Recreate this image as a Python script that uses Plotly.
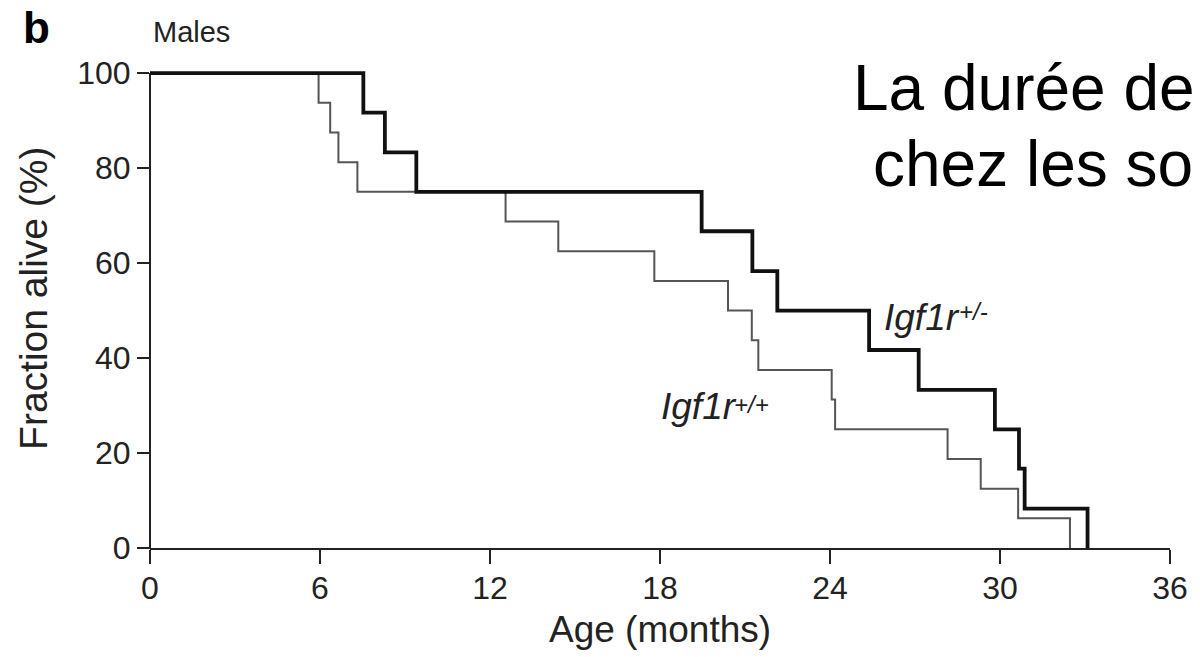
import plotly.graph_objects as go

# Kaplan-Meier style survival data (months, % alive)
het_months = [0, 7.53, 8.29, 9.40, 19.47, 21.26, 22.14, 25.38, 27.13, 29.82, 30.67, 30.87, 33.09]
het_alive = [100, 91.7, 83.3, 75.0, 66.7, 58.3, 50.0, 41.7, 33.3, 25.0, 16.7, 8.3, 0]

wt_months = [0, 5.95, 6.36, 6.65, 7.32, 12.55, 14.41, 17.80, 20.40, 21.24, 21.47, 24.06, 24.18,
             28.15, 29.32, 30.64, 32.47]
wt_alive = [100, 93.75, 87.5, 81.25, 75, 68.75, 62.5, 56.25, 50, 43.75, 37.5, 31.25, 25,
            18.75, 12.5, 6.25, 0]

x_ticks = [0, 6, 12, 18, 24, 30, 36]
y_ticks = [0, 20, 40, 60, 80, 100]

FONT = "Liberation Sans, Arial, Helvetica, sans-serif"
AX = "#222222"

fig = go.Figure()
fig.add_trace(go.Scatter(x=wt_months, y=wt_alive, mode="lines", line_shape="hv",
                         line=dict(color="#555555", width=2), name="Igf1r+/+",
                         showlegend=False))
fig.add_trace(go.Scatter(x=het_months, y=het_alive, mode="lines", line_shape="hv",
                         line=dict(color="#111111", width=3.8), name="Igf1r+/-",
                         showlegend=False))

fig.update_layout(
    width=1200, height=657,
    margin=dict(l=150, r=22, t=66, b=109),
    paper_bgcolor="white", plot_bgcolor="white",
    font=dict(family=FONT, color=AX),
    xaxis=dict(range=[0, 36], tickvals=x_ticks, ticks="outside", ticklen=14, tickwidth=2,
               tickcolor=AX, showline=True, linewidth=2, linecolor=AX, showgrid=False,
               zeroline=False, ticklabelstandoff=-3,
               tickfont=dict(size=32, color=AX, family=FONT)),
    yaxis=dict(range=[0, 101.5], tickvals=y_ticks, ticks="outside", ticklen=12, tickwidth=2,
               tickcolor=AX, showline=False, showgrid=False, zeroline=False,
               tickfont=dict(size=32, color=AX, family=FONT)),
)

# y axis line (stops at 100)
fig.add_shape(type="line", xref="paper", yref="paper", x0=0, x1=0, y0=-0.002,
              y1=100 / 101.5, line=dict(color=AX, width=2))

def py(pix):
    return (548 - pix) / 482.0

def px(pix):
    return (pix - 150) / 1028.0

ann = [
    dict(text="Age (months)", x=0.5, y=py(629), xanchor="center", yanchor="middle",
         font=dict(size=37, color=AX)),
    dict(text="Fraction alive (%)", x=px(32), y=py(298), xanchor="center", yanchor="middle",
         textangle=-90, font=dict(size=39, color=AX)),
    dict(text="Males", x=px(151), y=py(32), xanchor="left", yanchor="middle",
         font=dict(size=29, color=AX)),
    dict(text="<b>b</b>", x=px(20), y=py(27), xanchor="left", yanchor="middle",
         font=dict(size=44, color="#000000")),
    dict(text="La durée de", x=px(857), y=py(88), xanchor="left", yanchor="middle",
         font=dict(size=64, color="#000000")),
    dict(text="chez les so", x=px(877), y=py(164), xanchor="left", yanchor="middle",
         font=dict(size=64, color="#000000")),
]
for a in ann:
    fig.add_annotation(xref="paper", yref="paper", showarrow=False, **a)

# curve labels in data coordinates (base text + raised superscript)
labels = [
    ("Igf1r", "+/-", 25.84, 48.6, 28.48, 49.9),
    ("Igf1r", "+/+", 17.96, 29.9, 20.55, 30.3),
]
for base, sup, bx, by, sx, sy in labels:
    fig.add_annotation(x=bx, y=by, xref="x", yref="y", showarrow=False, xanchor="left",
                       yanchor="middle", text=f"<i>{base}</i>",
                       font=dict(size=37, color=AX))
    fig.add_annotation(x=sx, y=sy, xref="x", yref="y", showarrow=False, xanchor="left",
                       yanchor="middle", text=f"<i>{sup}</i>",
                       font=dict(size=24, color=AX))

fig.write_html("out.html")
